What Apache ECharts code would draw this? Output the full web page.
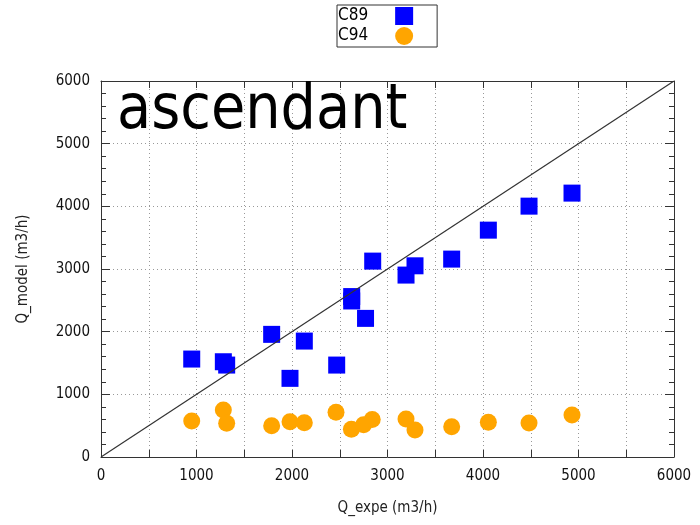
<!DOCTYPE html>
<html>
<head>
<meta charset="utf-8">
<script src="https://cdn.jsdelivr.net/npm/echarts@6/dist/echarts.min.js"></script>
<style>
  html, body { margin: 0; padding: 0; background: #fff; }
  #chart { width: 700px; height: 525px; }
</style>
</head>
<body>
<div id="chart"></div>
<script>
var xC89 = [950, 1281, 1316, 1787, 1979, 2129, 2468, 2625, 2625, 2770, 2845, 3194, 3288, 3672, 4056, 4482, 4932]
var yC89 = [1563, 1520, 1467, 1957, 1255, 1850, 1467, 2560, 2490, 2212, 3126, 2903, 3051, 3158, 3620, 4003, 4211]

var xC94 = [950, 1281, 1316, 1787, 1979, 2129, 2461, 2622, 2750, 2840, 3194, 3288, 3672, 4056, 4482, 4932]
var yC94 = [574, 750, 537, 500, 563, 547, 713, 444, 515, 600, 606, 431, 484, 553, 542, 670]

var diagX = [0, 6000]
var diagY = [0, 6000]

var xTicks = [0, 1000, 2000, 3000, 4000, 5000, 6000]

function pairs(xs, ys)
{
    var out = []
    for (var i = 0; i < xs.length; i++) out.push([xs[i], ys[i]])
    return out
}

var font = "'DejaVu Sans Condensed', 'DejaVu Sans', sans-serif"
var lineCol = '#333'

var myChart = echarts.init(document.getElementById('chart'));

var baseX = {
    type: 'value', min: 0, max: 6000, interval: 500,
    axisLine: { show: true, onZero: false, lineStyle: { color: lineCol, width: 1 } },
    axisTick: { show: true, inside: true, length: 7, lineStyle: { color: lineCol } },
    splitLine: { show: false }
}
var baseY = {
    type: 'value', min: 0, max: 6000, interval: 1000,
    axisLine: { show: true, onZero: false, lineStyle: { color: lineCol, width: 1 } },
    axisTick: { show: true, inside: true, length: 9, lineStyle: { color: lineCol } },
    minorTick: { show: true, splitNumber: 5, length: 5, lineStyle: { color: lineCol } },
    splitLine: { show: false }
}

var option = {
    animation: false,
    backgroundColor: '#fff',
    title: {
        text: 'ascendant',
        left: 112, top: 76,
        textStyle: { fontFamily: font, fontSize: 62, fontWeight: 'normal', color: '#000' }
    },
    legend: {
        data: ['C89', 'C94'],
        orient: 'vertical',
        left: 337, top: 5,
        align: 'right',
        itemWidth: 18, itemHeight: 18,
        itemGap: 2,
        padding: [2, 24, 2, 1],
        borderColor: '#333', borderWidth: 1,
        textStyle: { fontFamily: font, fontSize: 17, color: '#000', padding: [0, 22, 0, 0] }
    },
    grid: { left: 101, right: 26, top: 81, bottom: 68 },
    xAxis: [
        Object.assign({}, baseX, {
            position: 'bottom',
            name: 'Q_expe (m3/h)', nameLocation: 'middle', nameGap: 44,
            nameTextStyle: { fontFamily: font, fontSize: 15, color: '#222' },
            axisLabel: {
                margin: 12, fontFamily: font, fontSize: 15, color: '#111',
                formatter: function (v) { return xTicks.indexOf(v) >= 0 ? String(v) : '' }
            },
            splitLine: { show: true, lineStyle: { color: '#999', type: [1, 3], width: 1 } }
        }),
        Object.assign({}, baseX, { position: 'top', axisLabel: { show: false } })
    ],
    yAxis: [
        Object.assign({}, baseY, {
            position: 'left',
            name: 'Q_model (m3/h)', nameLocation: 'middle', nameGap: 70,
            nameTextStyle: { fontFamily: font, fontSize: 15, color: '#222' },
            axisLabel: {
                margin: 11, fontFamily: font, fontSize: 15, color: '#111',
                formatter: function (v) { return String(v) }
            },
            splitLine: { show: true, lineStyle: { color: '#999', type: [1, 3], width: 1 } }
        }),
        Object.assign({}, baseY, { position: 'right', axisLabel: { show: false } })
    ],
    series: [
        {
            name: 'C89', type: 'scatter',
            symbol: 'rect', symbolSize: 17,
            itemStyle: { color: '#0000ff', opacity: 1 },
            data: pairs(xC89, yC89), z: 2
        },
        {
            name: 'C94', type: 'scatter',
            symbol: 'circle', symbolSize: 17,
            itemStyle: { color: '#ffa500', opacity: 1 },
            data: pairs(xC94, yC94), z: 2
        },
        {
            name: 'diag', type: 'line',
            showSymbol: false, symbol: 'none',
            lineStyle: { color: '#333', width: 1.2 },
            data: pairs(diagX, diagY), z: 3, silent: true
        }
    ]
};

myChart.setOption(option);
</script>
</body>
</html>
